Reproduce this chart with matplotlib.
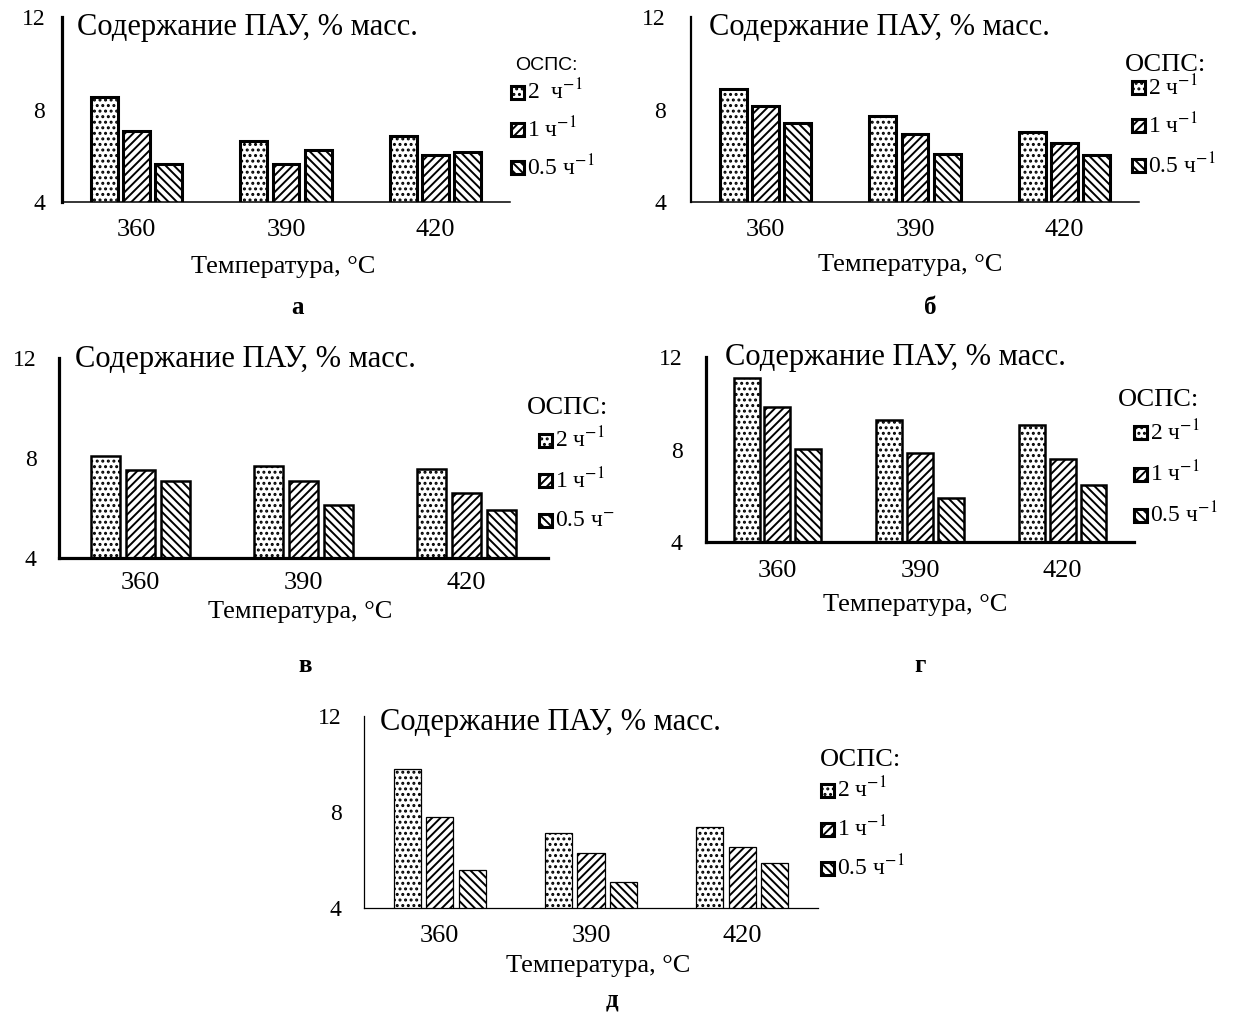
import matplotlib
matplotlib.use("Agg")
import matplotlib.pyplot as plt
from matplotlib.patches import Rectangle
import numpy as np

plt.rcParams['font.family'] = ['Liberation Serif', 'DejaVu Serif']
plt.rcParams['mathtext.fontset'] = 'stix'
plt.rcParams['hatch.linewidth'] = 1.4
plt.rcParams['hatch.color'] = 'black'

# ---- data ----
temperatures = ['360', '390', '420']
series_labels = ['2 ч$^{-1}$', '1 ч$^{-1}$', '0.5 ч$^{-1}$']
hatches = ['...', '////', '\\\\\\\\']

panel_a = {'2': [8.55, 6.64, 6.86], '1': [7.07, 5.64, 6.03], '0.5': [5.64, 6.25, 6.16]}
panel_b = {'2': [8.89, 7.72, 7.03], '1': [8.16, 6.94, 6.55], '0.5': [7.42, 6.08, 6.03]}
panel_v = {'2': [8.08, 7.68, 7.56], '1': [7.52, 7.08, 6.60], '0.5': [7.08, 6.12, 5.92]}
panel_g = {'2': [11.09, 9.26, 9.04], '1': [9.83, 7.83, 7.57], '0.5': [8.04, 5.91, 6.48]}
panel_d = {'2': [9.79, 7.12, 7.37], '1': [7.79, 6.29, 6.54], '0.5': [5.58, 5.08, 5.88]}

y_ticks = [4, 8, 12]
title_text = 'Содержание ПАУ, % масс.'
xlabel_text = 'Температура, °C'
legend_title = 'ОСПС:'

W, H = 1237, 1013
fig = plt.figure(figsize=(W / 100, H / 100), dpi=100)


def fx(x):
    return x / W


def fy(y):
    return 1 - y / H


# layout of each panel in pixel units (left, right, top, bottom) and styles
layouts = [
    dict(data=panel_a, box=(62, 510, 17, 202), ylw=2.3, xlw=1.1, elw=2.2,
         ypad=12, xpad=12, title=(77, 28), xlab=(283, 267), letter=('а', 298, 308),
         leg_title=(515, 65, 'sans'), leg_x=511, leg_y=[92, 130, 168],
         labels=['2  ч$^{-1}$', '1 ч$^{-1}$', '0.5 ч$^{-1}$']),
    dict(data=panel_b, box=(691, 1139, 17, 202), ylw=1.6, xlw=1.1, elw=2.2,
         ypad=18, xpad=12, title=(709, 28), xlab=(910, 265), letter=('б', 930, 308),
         leg_title=(1125, 65, 'serif'), leg_x=1132, leg_y=[88, 126, 166],
         labels=series_labels),
    dict(data=panel_v, box=(59, 548, 358, 558), ylw=2.3, xlw=2.3, elw=1.8,
         ypad=16, xpad=10, title=(75, 360), xlab=(300, 612), letter=('в', 305, 665),
         leg_title=(527, 408, 'serif'), leg_x=539, leg_y=[440, 481, 521],
         labels=['2 ч$^{-1}$', '1 ч$^{-1}$', '0.5 ч$^{-}$']),
    dict(data=panel_g, box=(706, 1134, 357, 542), ylw=2.3, xlw=2.3, elw=1.8,
         ypad=17, xpad=13, title=(725, 357), xlab=(915, 605), letter=('г', 920, 665),
         leg_title=(1118, 400, 'serif'), leg_x=1134, leg_y=[433, 474, 515],
         labels=series_labels),
    dict(data=panel_d, box=(364, 818, 716, 908), ylw=0.9, xlw=0.9, elw=0.9,
         ypad=16, xpad=12, title=(380, 722), xlab=(598, 966), letter=('д', 612, 1000),
         leg_title=(820, 760, 'serif'), leg_x=821, leg_y=[790, 829, 868],
         labels=series_labels),
]

x = np.arange(len(temperatures))
bar_w = 0.18
step = 0.215

for lay in layouts:
    l, r, t, b = lay['box']
    ax = fig.add_axes([fx(l), fy(b), (r - l) / W, (b - t) / H])
    values = [lay['data']['2'], lay['data']['1'], lay['data']['0.5']]
    for i, (vals, hatch) in enumerate(zip(values, hatches)):
        ax.bar(x + (i - 1) * step, vals, width=bar_w, facecolor='white',
               edgecolor='black', linewidth=lay['elw'], hatch=hatch, zorder=2)
    ax.set_xlim(-0.5, 2.5)
    ax.set_ylim(4, 12)
    ax.set_yticks(y_ticks)
    ax.set_yticklabels([str(v) for v in y_ticks], fontsize=17)
    ax.set_xticks(x)
    ax.set_xticklabels(temperatures, fontsize=19)
    ax.tick_params(axis='y', length=0, pad=lay['ypad'])
    ax.tick_params(axis='x', length=0, pad=lay['xpad'])
    for s in ('top', 'right'):
        ax.spines[s].set_visible(False)
    ax.spines['left'].set_linewidth(lay['ylw'])
    ax.spines['bottom'].set_linewidth(lay['xlw'])
    ax.spines['left'].set_zorder(3)
    ax.spines['bottom'].set_zorder(3)
    ax.patch.set_alpha(0)

    tx, ty = lay['title']
    fig.text(fx(tx), fy(ty), title_text, fontsize=22, ha='left', va='center')
    lx, ly = lay['xlab']
    fig.text(fx(lx), fy(ly), xlabel_text, fontsize=19, ha='center', va='center')
    letter, px_, py_ = lay['letter']
    fig.text(fx(px_), fy(py_), letter, fontsize=18, fontweight='bold',
             ha='center', va='center')

    gx, gy, style = lay['leg_title']
    if style == 'sans':
        fig.text(fx(gx), fy(gy), legend_title, fontsize=14,
                 family=['Liberation Sans', 'DejaVu Sans'], ha='left', va='center')
    else:
        fig.text(fx(gx), fy(gy), legend_title, fontsize=19, ha='left', va='center')

    sq = 13
    for hatch, label, yy in zip(hatches, lay['labels'], lay['leg_y']):
        fig.add_artist(Rectangle((fx(lay['leg_x']), fy(yy + sq / 2)), sq / W, sq / H,
                                 transform=fig.transFigure, facecolor='white',
                                 edgecolor='black', linewidth=2.2, hatch=hatch))
        fig.text(fx(lay['leg_x'] + sq + 3), fy(yy), label, fontsize=17,
                 ha='left', va='center')

fig.savefig('out.png', dpi=100)
